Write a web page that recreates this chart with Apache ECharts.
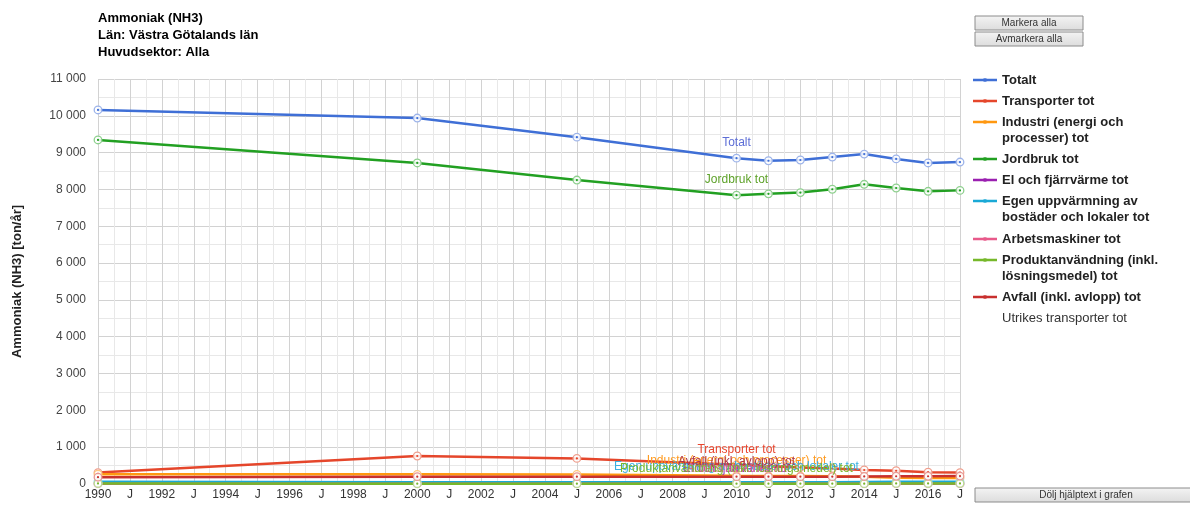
<!DOCTYPE html>
<html>
<head>
<meta charset="utf-8">
<script src="https://cdn.jsdelivr.net/npm/echarts@6/dist/echarts.min.js"></script>
<style>html,body{margin:0;padding:0;background:#fff;}#c{width:1190px;height:507px;}</style>
</head>
<body>
<div id="c"></div>
<script>
// ---- data ----
const years = [1990, 2000, 2005, 2010, 2011, 2012, 2013, 2014, 2015, 2016, 2017];
const totalt      = [10160, 9940, 9420, 8850, 8780, 8800, 8880, 8960, 8830, 8720, 8745];
const transporter = [310, 760, 695, 520, 480, 450, 420, 380, 360, 320, 310];
const industri    = [265, 262, 258, 225, 220, 215, 210, 195, 172, 165, 160];
const jordbruk    = [9345, 8720, 8255, 7845, 7880, 7915, 8005, 8140, 8040, 7950, 7975];
const elFjarr     = [12, 10, 10, 10, 10, 10, 10, 10, 10, 10, 10];
const egenUpp     = [63, 46, 45, 50, 50, 50, 50, 55, 60, 60, 60];
const arbetsmask  = [8, 8, 8, 8, 8, 8, 8, 8, 8, 8, 8];
const produktanv  = [15, 8, 8, 10, 10, 10, 10, 10, 15, 15, 15];
const avfall      = [185, 200, 200, 200, 200, 200, 200, 205, 210, 210, 215];
const utrikes     = [];
const xTickLabels = ['1990','J','1992','J','1994','J','1996','J','1998','J','2000','J','2002','J','2004','J','2006','J','2008','J','2010','J','2012','J','2014','J','2016','J'];
const yTicks = [0, 1000, 2000, 3000, 4000, 5000, 6000, 7000, 8000, 9000, 10000, 11000];
const labelYear = 2010;

const FONT = '"Liberation Sans", Arial, sans-serif';

const seriesDefs = [
  {name:'Totalt', data: totalt, color:'#3f6fd6', light:'#9db4ea', label:'#5d6ed6'},
  {name:'Transporter tot', data: transporter, color:'#e5462b', light:'#f0a08f', label:'#e8462e'},
  {name:'Industri (energi och processer) tot', data: industri, color:'#ff9810', light:'#ffc880', label:'#ff9a1f'},
  {name:'Jordbruk tot', data: jordbruk, color:'#22a022', light:'#8fd08f', label:'#5ea22a'},
  {name:'El och fjärrvärme tot', data: elFjarr, color:'#9a1fb0', light:'#cf8fdb', label:'#9a3fb0'},
  {name:'Egen uppvärmning av bostäder och lokaler tot', data: egenUpp, color:'#1aa9d6', light:'#8fd4ea', label:'#3ab0e0'},
  {name:'Arbetsmaskiner tot', data: arbetsmask, color:'#e85a8a', light:'#f3abc4', label:'#e85a8a'},
  {name:'Produktanvändning (inkl. lösningsmedel) tot', data: produktanv, color:'#76b82a', light:'#b8dc92', label:'#7ab82a'},
  {name:'Avfall (inkl. avlopp) tot', data: avfall, color:'#c8302e', light:'#e89896', label:'#b0364a'},
  {name:'Utrikes transporter tot', data: utrikes, color:'#888888', light:'#cccccc', label:'#888888'}
];
const colorOf = {};
seriesDefs.forEach(s => { colorOf[s.name] = s.color; });

const legendText = {
  'Industri (energi och processer) tot': 'Industri (energi och\nprocesser) tot',
  'Egen uppvärmning av bostäder och lokaler tot': 'Egen uppvärmning av\nbostäder och lokaler tot',
  'Produktanvändning (inkl. lösningsmedel) tot': 'Produktanvändning (inkl.\nlösningsmedel) tot'
};
const legendLineY = [79, 100, 121, 158, 179, 200, 238, 259, 296, 317];
const legendOrder = ['Totalt','Transporter tot','Industri (energi och processer) tot','Jordbruk tot','El och fjärrvärme tot','Egen uppvärmning av bostäder och lokaler tot','Arbetsmaskiner tot','Produktanvändning (inkl. lösningsmedel) tot','Avfall (inkl. avlopp) tot','Utrikes transporter tot'];

const bounds = ' M0,0 L0.01,0 L0.01,0.01 Z M23.99,15.99 L24,15.99 L24,16 Z';
const iconLine = 'path://M0,6.8 L24,6.8 L24,9.2 L0,9.2 Z M10.5,6.2 L13.5,6.2 L13.5,9.8 L10.5,9.8 Z' + bounds;
const iconNone = 'path://' + bounds.trim();

const legends = legendOrder.map((name, i) => {
  const two = !!legendText[name];
  const none = name === 'Utrikes transporter tot';
  return {
    left: 973,
    top: legendLineY[i] - (two ? 24 : 8) + 1,
    padding: 0,
    orient: 'vertical',
    itemWidth: 24,
    itemHeight: 16,
    itemGap: 0,
    formatter: n => legendText[n] ? '\n' + legendText[n] : n,
    data: [{
      name: name,
      icon: none ? iconNone : iconLine,
      itemStyle: {color: none ? 'rgba(0,0,0,0)' : colorOf[name], borderWidth: 0, opacity: 1},
      textStyle: {
        fontFamily: FONT, fontSize: 13, fontWeight: none ? 'normal' : 'bold',
        color: none ? '#333' : '#222', lineHeight: 16
      }
    }]
  };
});

function marker(light, dark) {
  const svg = "<svg xmlns='http://www.w3.org/2000/svg' width='20' height='20' viewBox='0 0 20 20'>" +
    "<circle cx='10' cy='10' r='7.6' fill='#ffffff' fill-opacity='0.85' stroke='" + light + "' stroke-width='2.6'/>" +
    "<circle cx='10' cy='10' r='2.2' fill='" + dark + "'/></svg>";
  return 'image://data:image/svg+xml;charset=utf-8,' + encodeURIComponent(svg);
}

const series = seriesDefs.map(s => ({
  name: s.name,
  type: 'line',
  data: s.data.map((v, i) => years[i] === labelYear
    ? {value: [years[i], v], label: {show: true}}
    : [years[i], v]),
  color: s.color,
  lineStyle: {width: 2.5, color: s.color},
  symbol: marker(s.light, s.color),
  symbolSize: 10,
  itemStyle: {color: s.light},
  emphasis: {disabled: true},
  animation: false,
  label: {
    show: false, position: 'top', distance: 4,
    formatter: () => s.name,
    color: s.label, fontFamily: FONT, fontSize: 12
  },
  z: 2
}));

const fmt = v => String(v).replace(/\B(?=(\d{3})+(?!\d))/g, '\u00a0');

function button(x, y, w, h, text) {
  return {
    type: 'group', children: [
      {type: 'rect', shape: {x: x, y: y, width: w, height: h},
       style: {fill: {type: 'linear', x: 0, y: 0, x2: 0, y2: 1, colorStops: [{offset: 0, color: '#f4f4f4'}, {offset: 1, color: '#dcdcdc'}]}, stroke: '#8c8c8c', lineWidth: 1}},
      {type: 'text', x: x + w / 2, y: y + h / 2,
       style: {text: text, fontFamily: FONT, fontSize: 10, fill: '#333', align: 'center', verticalAlign: 'middle'}}
    ]
  };
}

const chart = echarts.init(document.getElementById('c'), null, {renderer: 'canvas'});
chart.setOption({
  backgroundColor: '#fff',
  animation: false,
  title: {
    text: 'Ammoniak (NH3)\nLän: Västra Götalands län\nHuvudsektor: Alla',
    left: 98, top: 10, padding: 0,
    textStyle: {fontFamily: FONT, fontSize: 13, fontWeight: 'bold', color: '#000', lineHeight: 17}
  },
  legend: legends,
  grid: {left: 98, right: 230, top: 79, bottom: 23, containLabel: false, outerBoundsMode: 'none'},
  xAxis: {
    type: 'value', min: 1990, max: 2017, interval: 1,
    name: 'år', nameLocation: 'middle', nameGap: 25,
    nameTextStyle: {fontFamily: FONT, fontSize: 12, color: '#333'},
    axisLine: {show: false}, axisTick: {show: false},
    axisLabel: {
      formatter: v => xTickLabels[v - 1990] || '',
      fontFamily: FONT, fontSize: 12, color: '#333', margin: 5,
      showMinLabel: true, showMaxLabel: true
    },
    splitLine: {show: true, lineStyle: {color: '#d2d2d2', width: 1}},
    minorTick: {show: false, splitNumber: 2},
    minorSplitLine: {show: true, lineStyle: {color: '#e8e8e8', width: 1}}
  },
  yAxis: {
    type: 'value', min: yTicks[0], max: yTicks[yTicks.length - 1], interval: 1000,
    name: 'Ammoniak (NH3) [ton/år]', nameLocation: 'middle', nameGap: 74,
    nameTextStyle: {fontFamily: FONT, fontSize: 13, fontWeight: 'bold', color: '#222'},
    axisLine: {show: false}, axisTick: {show: false},
    axisLabel: {formatter: fmt, fontFamily: FONT, fontSize: 12, color: '#444', margin: 12},
    splitLine: {show: true, lineStyle: {color: '#d2d2d2', width: 1}},
    minorTick: {show: false, splitNumber: 2},
    minorSplitLine: {show: true, lineStyle: {color: '#e8e8e8', width: 1}}
  },
  graphic: [
    button(975, 16, 108, 14, 'Markera alla'),
    button(975, 32, 108, 14, 'Avmarkera alla'),
    button(975, 488, 222, 14, 'Dölj hjälptext i grafen')
  ],
  series: series
});
</script>
</body>
</html>
